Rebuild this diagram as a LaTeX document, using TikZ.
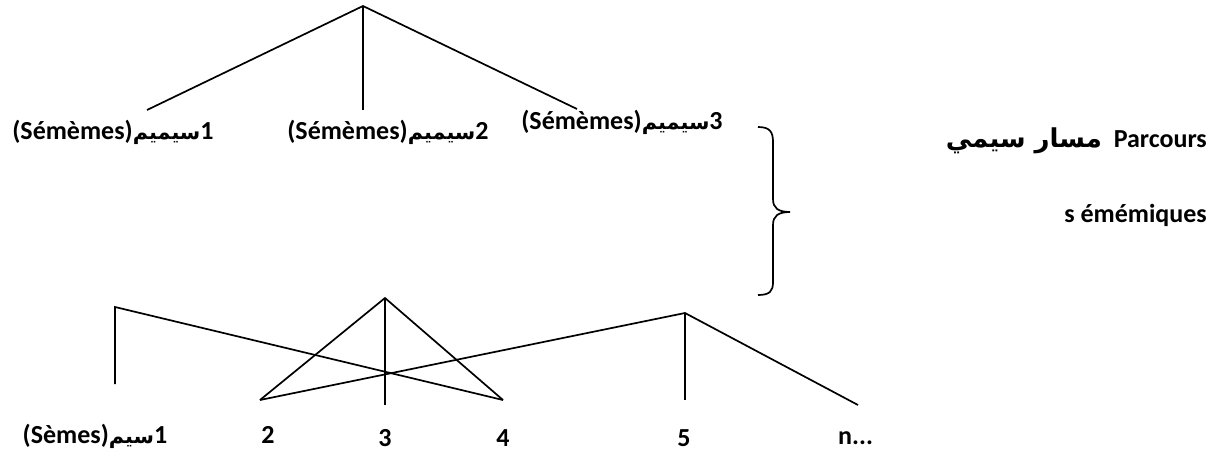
\documentclass[tikz,border=0pt]{standalone}
\usepackage{fontspec}
\setmainfont{Carlito}
\newfontfamily\arabicfont[Script=Arabic]{DejaVu Sans}
\newfontfamily\arabicsmall[Script=Arabic,Scale=0.8]{DejaVu Sans}
\TeXXeTstate=1
\newcommand{\ar}[1]{{\arabicfont\beginR #1\endR}}
\newcommand{\ars}[1]{{\arabicsmall\beginR #1\endR}}
\begin{document}
\begin{tikzpicture}[x=1pt,y=-1pt,
  treeline/.style={line width=1.7pt,black},
  lbl/.style={inner sep=0pt,font=\fontsize{26}{30}\selectfont\bfseries}]
\useasboundingbox (0,0) rectangle (1216,453);
% top tree
\coordinate (T) at (363,6);
\coordinate (T1) at (147,110);
\coordinate (T2) at (363,110);
\coordinate (T3) at (577,109);
\draw[treeline] (T1) -- (T) -- (T3);
\draw[treeline] (T) -- (T2);
\node[lbl] (s1) at (113,132) {(Sémèmes)\ars{سيميم}1};
\node[lbl] (s2) at (388,132) {(Sémèmes)\ars{سيميم}2};
\node[lbl] (s3) at (622,122) {(Sémèmes)\ars{سيميم}3};
% brace
\coordinate (b1) at (758,127);
\coordinate (b2) at (758,295);
\coordinate (bt) at (790,212);
\draw[line width=1.7pt] (b1) .. controls (770,127) and (773,132) .. (773,142) -- (773,199) .. controls (773,208) and (778,212) .. (bt)
  .. controls (778,212) and (773,216) .. (773,225) -- (773,282) .. controls (773,291) and (770,295) .. (b2);
% right text
\node[lbl,anchor=east] (p1) at (1207,141) {\ar{مسار سيمي}\ \ Parcours};
\node[lbl,anchor=east] (p2) at (1207,215) {s émémiques};
% bottom tree
\coordinate (B1) at (115,307);
\coordinate (B1b) at (115,384);
\coordinate (A) at (385,298);
\coordinate (A2) at (260,400);
\coordinate (A3) at (385,405);
\coordinate (A4) at (503,400);
\coordinate (C) at (685,313);
\coordinate (C5) at (685,400);
\coordinate (Cn) at (858,405);
\draw[treeline] (B1b) -- (B1) -- (A4);
\draw[treeline] (A2) -- (A) -- (A4);
\draw[treeline] (A) -- (A3);
\draw[treeline] (A2) -- (C) -- (Cn);
\draw[treeline] (C) -- (C5);
\node[lbl] (m1) at (95,436) {(Sèmes)\ars{سيم}1};
\node[lbl] (m2) at (268,435) {2};
\node[lbl] (m3) at (385,438) {3};
\node[lbl] (m4) at (503,438) {4};
\node[lbl] (m5) at (684,438) {5};
\node[lbl,anchor=west] (mn) at (838,438) {n...};
\end{tikzpicture}
\end{document}
